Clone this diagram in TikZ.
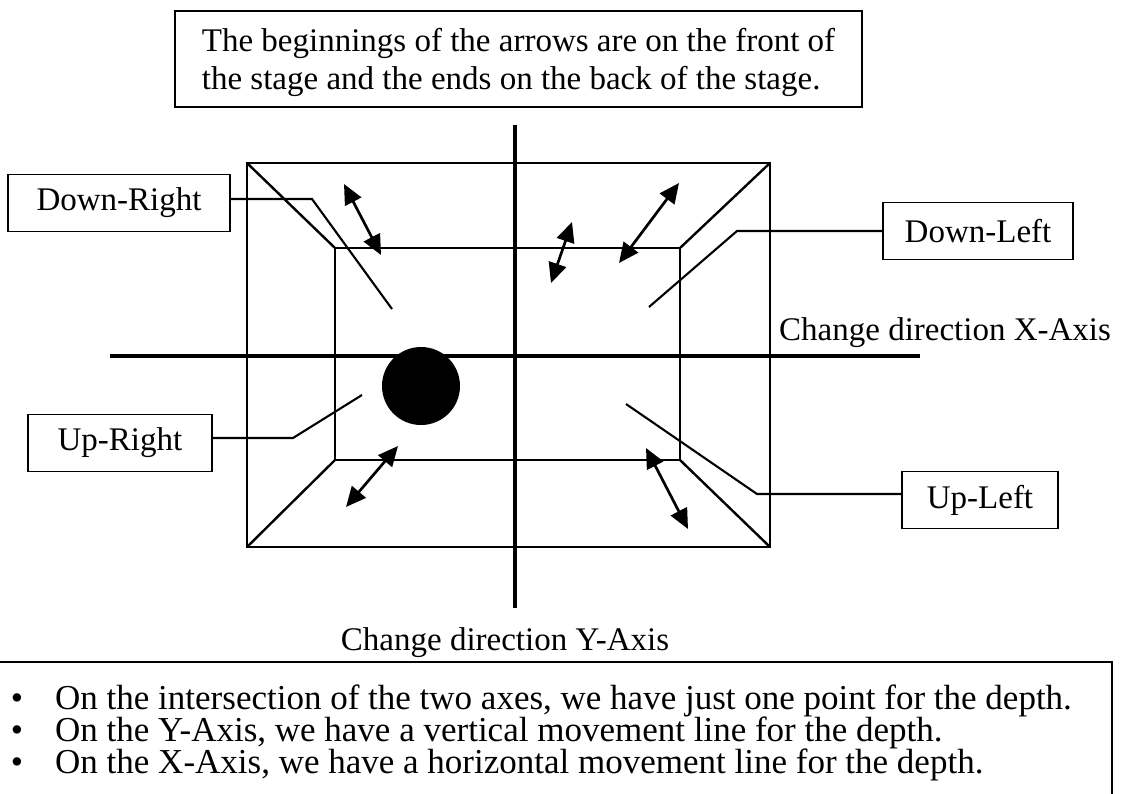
\documentclass[tikz,border=0pt]{standalone}
\usepackage{fontspec}
\setmainfont{Liberation Serif}
\usetikzlibrary{arrows.meta}
\begin{document}
\begin{tikzpicture}[x=1pt,y=-1pt,
  lbl/.style={draw,line width=1.8pt,minimum height=57pt,inner sep=0pt,font=\fontsize{33}{36}\selectfont},
  txt/.style={inner sep=0pt,font=\fontsize{33}{36}\selectfont},
  btxt/.style={inner sep=0pt,font=\fontsize{35}{36}\selectfont},
  axisline/.style={line width=3.8pt},
  frame/.style={line width=2.4pt},
  leader/.style={line width=2.1pt},
  dbl/.style={line width=2.7pt,{Triangle[length=20pt,width=18pt]}-{Triangle[length=20pt,width=18pt]}}]
\useasboundingbox (0,0) rectangle (1121,793);
\fill[white] (0,0) rectangle (1121,793);
\clip (0,0) rectangle (1121,793);

% top note
\node[draw,line width=1.8pt,anchor=north west,align=left,inner xsep=27pt,inner ysep=0pt,
      minimum height=96pt,font=\fontsize{33}{38}\selectfont] (note) at (174,10)
  {\rule{0pt}{30pt}The beginnings of the arrows are on the front of\\the stage and the ends on the back of the stage.};

% axes
\coordinate (vt) at (515,125); \coordinate (vb) at (515,608);
\coordinate (hl) at (110,356); \coordinate (hr) at (920,356);
\draw[axisline] (vt) -- (vb);
\draw[axisline] (hl) -- (hr);

% stage
\coordinate (o1) at (247,163); \coordinate (o2) at (770,163);
\coordinate (o3) at (770,547); \coordinate (o4) at (247,547);
\coordinate (i1) at (335,248); \coordinate (i2) at (680,248);
\coordinate (i3) at (680,460); \coordinate (i4) at (335,460);
\draw[frame] (o1) rectangle (o3);
\draw[frame] (i1) rectangle (i3);
\draw[frame] (o1) -- (i1) (o2) -- (i2) (o3) -- (i3) (o4) -- (i4);

% ball
\node[circle,fill=black,minimum size=78pt,inner sep=0pt] (ball) at (421,386) {};

% double arrows
\coordinate (a1s) at (381,255); \coordinate (a1e) at (344,184);
\coordinate (a2s) at (551,283); \coordinate (a2e) at (572,222);
\coordinate (a3s) at (619,263); \coordinate (a3e) at (679,183);
\coordinate (a4s) at (398,446); \coordinate (a4e) at (346,507);
\coordinate (a5s) at (646,448); \coordinate (a5e) at (688,529);
\draw[dbl] (a1s) -- (a1e);
\draw[dbl] (a2s) -- (a2e);
\draw[dbl] (a3s) -- (a3e);
\draw[dbl] (a4s) -- (a4e);
\draw[dbl] (a5s) -- (a5e);

% labels
\node[lbl,minimum width=222pt] (dr) at (119,203) {Down-Right};
\node[lbl,minimum width=184pt] (ur) at (120,443) {Up-Right};
\node[lbl,minimum width=190pt] (dl) at (978,231) {Down-Left};
\node[lbl,minimum width=156pt] (ul) at (980,500) {Up-Left};

% leaders
\coordinate (drk) at (312,199); \coordinate (drp) at (392,309);
\coordinate (urk) at (293,438); \coordinate (urp) at (362,395);
\coordinate (dlk) at (737,231); \coordinate (dlp) at (649,307);
\coordinate (ulk) at (757,494); \coordinate (ulp) at (626,404);
\draw[leader] (dr.east |- drk) -- (drk) -- (drp);
\draw[leader] (ur.east |- urk) -- (urk) -- (urp);
\draw[leader] (dl.west |- dlk) -- (dlk) -- (dlp);
\draw[leader] (ul.west |- ulk) -- (ulk) -- (ulp);

% axis captions
\node[txt,anchor=base west] (xlab) at (779,340) {Change direction X-Axis};
\node[txt,anchor=base] (ylab) at (505,650) {Change direction Y-Axis};

% bottom notes
\draw[line width=2pt] (-10,662) -- (1112,662) -- (1112,800);
\node[btxt,anchor=base] (b1) at (17,709) {\textbullet};
\node[btxt,anchor=base] (b2) at (17,741) {\textbullet};
\node[btxt,anchor=base] (b3) at (17,773) {\textbullet};
\node[btxt,anchor=base west] (t1) at (55,709) {On the intersection of the two axes, we have just one point for the depth.};
\node[btxt,anchor=base west] (t2) at (55,741) {On the Y-Axis, we have a vertical movement line for the depth.};
\node[btxt,anchor=base west] (t3) at (55,773) {On the X-Axis, we have a horizontal movement line for the depth.};
\end{tikzpicture}
\end{document}
